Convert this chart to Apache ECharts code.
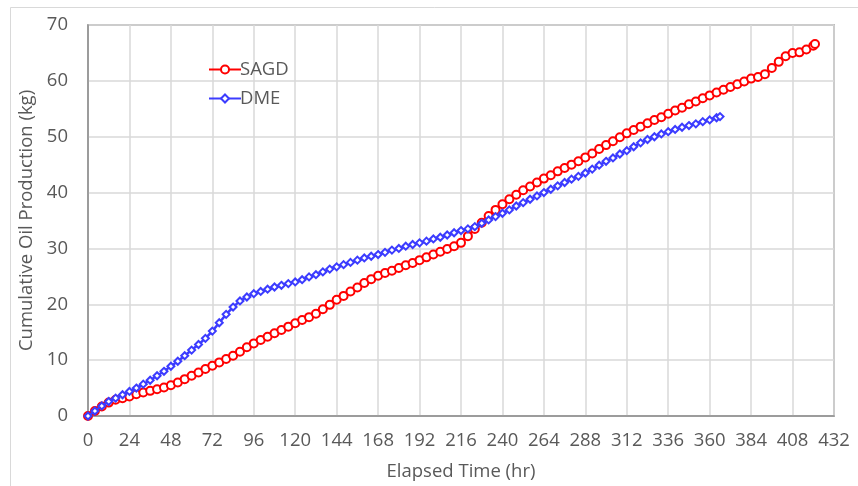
<!DOCTYPE html>
<html>
<head>
<meta charset="utf-8">
<script src="https://cdn.jsdelivr.net/npm/echarts@6/dist/echarts.min.js"></script>
<style>html,body{margin:0;padding:0;background:#fff}#c{width:858px;height:486px}</style>
</head>
<body>
<div id="c"></div>
<script>
var xTicks = [0,24,48,72,96,120,144,168,192,216,240,264,288,312,336,360,384,408,432];
var yTicks = [0,10,20,30,40,50,60,70];

var sagdTime = [0,4,8,12,16,20,24,28,32,36,40,44,48,52,56,60,64,68,72,76,80,84,88,92,96,100,104,108,112,116,120,124,128,132,136,140,144,148,152,156,160,164,168,172,176,180,184,188,192,196,200,204,208,212,216,220,224,228,232,236,240,244,248,252,256,260,264,268,272,276,280,284,288,292,296,300,304,308,312,316,320,324,328,332,336,340,344,348,352,356,360,364,368,372,376,380,384,388,392,396,400,404,408,412,416,420,421];
var sagdOil = [0,0.9,1.7,2.4,2.9,3.2,3.5,3.9,4.2,4.5,4.8,5.1,5.5,6.0,6.6,7.2,7.8,8.4,9.0,9.6,10.2,10.8,11.5,12.3,13.0,13.6,14.2,14.8,15.4,16.0,16.6,17.2,17.7,18.3,19.1,19.9,20.8,21.5,22.3,23.0,23.8,24.5,25.1,25.6,26.0,26.5,27.0,27.4,27.9,28.4,28.9,29.4,29.9,30.4,31.0,32.2,33.5,34.6,35.8,36.9,37.9,38.8,39.6,40.4,41.1,41.8,42.5,43.1,43.8,44.4,45.0,45.6,46.3,47.0,47.8,48.5,49.2,49.9,50.6,51.2,51.8,52.4,53.0,53.5,54.1,54.7,55.2,55.8,56.3,56.9,57.4,57.9,58.4,58.9,59.4,59.9,60.4,60.7,61.2,62.3,63.4,64.4,65.0,65.1,65.6,66.3,66.6];

var dmeTime = [0,4,8,12,16,20,24,28,32,36,40,44,48,52,56,60,64,68,72,76,80,84,88,92,96,100,104,108,112,116,120,124,128,132,136,140,144,148,152,156,160,164,168,172,176,180,184,188,192,196,200,204,208,212,216,220,224,228,232,236,240,244,248,252,256,260,264,268,272,276,280,284,288,292,296,300,304,308,312,316,320,324,328,332,336,340,344,348,352,356,360,364,366];
var dmeOil = [0,0.9,1.8,2.6,3.2,3.8,4.4,5.0,5.7,6.4,7.2,8.0,8.9,9.8,10.8,11.8,12.8,13.9,15.2,16.7,18.2,19.5,20.6,21.3,21.9,22.3,22.7,23.1,23.4,23.7,24.0,24.4,24.9,25.3,25.8,26.3,26.7,27.1,27.5,27.9,28.3,28.6,28.9,29.3,29.7,30.0,30.4,30.7,31.0,31.3,31.7,32.0,32.4,32.8,33.2,33.5,33.9,34.5,35.1,35.7,36.3,36.9,37.6,38.2,38.8,39.4,40.0,40.6,41.2,41.8,42.4,42.9,43.5,44.2,44.9,45.6,46.2,46.9,47.5,48.2,48.9,49.5,50.0,50.5,50.9,51.3,51.7,52.0,52.3,52.7,53.0,53.4,53.6];

function pairs(xs, ys){ return xs.map(function(x,i){ return [x, ys[i]]; }); }

var chart = echarts.init(document.getElementById('c'), null, {renderer:'canvas'});
var textColor = '#595959';
var fontFam = '"Open Sans", "Liberation Sans", sans-serif';
var fs = 18.5;
chart.setOption({
  animation: false,
  backgroundColor: '#fff',
  graphic: [{
    type: 'rect', silent: true, z: -10,
    shape: {x: 10.5, y: 7.5, width: 900, height: 600},
    style: {fill: 'none', stroke: '#d9d9d9', lineWidth: 1}
  }],
  grid: {left: 88, right: 24, top: 25, bottom: 69, show: true, borderColor: '#8c8c8c', borderWidth: 1.5, backgroundColor: 'transparent'},
  legend: {
    orient: 'vertical', left: 203, top: 55, itemGap: 10, itemWidth: 32, itemHeight: 10,
    textStyle: {color: textColor, fontSize: fs, fontFamily: fontFam, padding: [0,0,0,-6]},
    data: ['SAGD', 'DME']
  },
  xAxis: {
    type: 'value', min: 0, max: 432, interval: 24,
    name: 'Elapsed Time (hr)', nameLocation: 'middle', nameGap: 46,
    nameTextStyle: {color: textColor, fontSize: fs, fontFamily: fontFam},
    axisLine: {show: true, lineStyle: {color: '#8c8c8c', width: 1.5}},
    axisTick: {show: false},
    axisLabel: {color: textColor, fontSize: fs, fontFamily: fontFam, margin: 15,
      formatter: function(v){ return xTicks.indexOf(v) >= 0 ? String(v) : ''; }},
    splitLine: {show: true, lineStyle: {color: '#d9d9d9', width: 1.5}}
  },
  yAxis: {
    type: 'value', min: 0, max: 70, interval: 10,
    name: 'Cumulative Oil Production (kg)', nameLocation: 'middle', nameGap: 50,
    nameTextStyle: {color: textColor, fontSize: fs, fontFamily: fontFam},
    axisLine: {show: true, lineStyle: {color: '#8c8c8c', width: 1.5}},
    axisTick: {show: false},
    axisLabel: {color: textColor, fontSize: fs, fontFamily: fontFam, margin: 20,
      formatter: function(v){ return yTicks.indexOf(v) >= 0 ? String(v) : ''; }},
    splitLine: {show: true, lineStyle: {color: '#d9d9d9', width: 1.5}}
  },
  series: [
    {
      name: 'SAGD', type: 'line', data: pairs(sagdTime, sagdOil),
      symbol: 'emptyCircle', symbolSize: 8, showAllSymbol: true,
      lineStyle: {color: '#ff0000', width: 2.5},
      itemStyle: {color: '#ff0000', borderWidth: 1.5},
      z: 3
    },
    {
      name: 'DME', type: 'line', data: pairs(dmeTime, dmeOil),
      symbol: 'emptyDiamond', symbolSize: 7, showAllSymbol: true,
      lineStyle: {color: '#3c3cff', width: 2.5},
      itemStyle: {color: '#3c3cff', borderWidth: 1.5},
      z: 4
    }
  ]
});
</script>
</body>
</html>
